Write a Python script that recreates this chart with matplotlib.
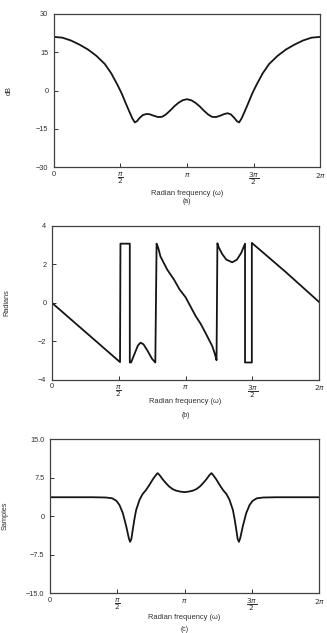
import numpy as np
import matplotlib
matplotlib.use("Agg")
import matplotlib.pyplot as plt

# (a) log magnitude, dB
w_mag = [0.00, 0.20, 0.40, 0.60, 0.80, 1.00, 1.20, 1.35, 1.50, 1.60, 1.70, 1.78, 1.85, 1.91,
         1.96, 2.03, 2.10, 2.18, 2.26, 2.36, 2.46, 2.55, 2.64, 2.74, 2.84, 2.94, 3.04, 3.14,
         3.24, 3.34, 3.44, 3.54, 3.64, 3.73, 3.82, 3.92, 4.02, 4.10, 4.18, 4.25, 4.32, 4.37,
         4.43, 4.50, 4.58, 4.68, 4.78, 4.93, 5.08, 5.28, 5.48, 5.68, 5.88, 6.08, 6.28]
mag_db = [21.0, 20.7, 19.6, 18.0, 16.1, 13.6, 10.4, 6.8, 2.2, -1.2, -5.2, -8.3, -10.9, -12.5,
          -12.0, -10.6, -9.6, -9.2, -9.3, -9.9, -10.4, -10.3, -9.4, -7.9, -6.2, -4.8, -3.8, -3.4,
          -3.8, -4.8, -6.2, -7.9, -9.4, -10.3, -10.4, -9.9, -9.2, -8.9, -9.4, -10.6, -12.0, -12.5,
          -10.9, -8.3, -5.2, -1.2, 2.2, 6.8, 10.4, 13.6, 16.1, 18.0, 19.6, 20.7, 21.0]

# (b) principal value of the phase, radians
w_ph = [0.00, 0.40, 0.80, 1.20, 1.60, 1.61, 1.83, 1.83, 1.86, 1.95, 2.02, 2.08, 2.15, 2.25,
        2.35, 2.43, 2.46, 2.50, 2.55, 2.71, 2.87, 3.00, 3.14, 3.38, 3.50, 3.61, 3.70, 3.77,
        3.83, 3.87, 3.89, 3.92, 4.00, 4.10, 4.24, 4.35, 4.45, 4.54, 4.54, 4.70, 4.70, 5.50, 6.28]
phase = [0.00, -0.77, -1.54, -2.31, -3.08, 3.08, 3.08, -3.10, -3.10, -2.60, -2.22, -2.07, -2.15, -2.50,
         -2.90, -3.10, 3.08, 2.85, 2.42, 1.73, 1.21, 0.70, 0.30, -0.69, -1.10, -1.56, -1.95, -2.25,
         -2.65, -2.98, 3.10, 2.90, 2.55, 2.25, 2.11, 2.25, 2.60, 3.08, -3.10, -3.10, 3.12, 1.60, 0.05]

# (c) group delay, samples
w_gd = [0.00, 0.50, 1.00, 1.30, 1.45, 1.55, 1.62, 1.70, 1.78, 1.84, 1.87, 1.90, 1.93, 1.97,
        2.01, 2.09, 2.16, 2.24, 2.32, 2.40, 2.47, 2.51, 2.56, 2.63, 2.70, 2.78, 2.86, 2.94,
        3.04, 3.14, 3.24, 3.34, 3.42, 3.50, 3.58, 3.65, 3.72, 3.77, 3.81, 3.88, 3.96, 4.04,
        4.12, 4.19, 4.27, 4.31, 4.35, 4.38, 4.41, 4.44, 4.50, 4.58, 4.66, 4.73, 4.83, 4.98,
        5.28, 5.78, 6.28]
grd = [3.7, 3.7, 3.7, 3.65, 3.5, 3.0, 2.2, 0.6, -2.0, -4.3, -5.0, -4.4, -2.7, -0.6,
       1.2, 3.2, 4.3, 5.1, 6.1, 7.2, 8.0, 8.4, 8.0, 7.2, 6.5, 5.8, 5.3, 5.0,
       4.8, 4.7, 4.8, 5.0, 5.3, 5.8, 6.5, 7.2, 8.0, 8.4, 8.0, 7.2, 6.1, 5.1,
       4.3, 3.2, 1.2, -0.6, -2.7, -4.4, -5.0, -4.3, -2.0, 0.6, 2.2, 3.0, 3.5, 3.65,
       3.7, 3.7, 3.7]

x_ticks = [0, np.pi / 2, np.pi, 3 * np.pi / 2, 2 * np.pi]
x_labels = ["0", r"$\dfrac{\pi}{2}$", r"$\pi$", r"$\dfrac{3\pi}{2}$", r"$2\pi$"]

plt.rcParams["font.family"] = ["Liberation Sans", "DejaVu Sans"]
plt.rcParams["mathtext.fontset"] = "dejavusans"

fig = plt.figure(figsize=(3.27, 6.33), dpi=100)

panels = [
    # rect, x, y, ylim, yticks, yticklabels, ylabel, caption, label y, caption y
    ([0.165, 0.736, 0.814, 0.242], w_mag, mag_db, (-30, 30), [30, 15, 0, -15, -30],
     ["30", "15", "0", "\u221215", "\u221230"], "dB", "(a)", -0.17, -0.222),
    ([0.159, 0.400, 0.817, 0.243], w_ph, phase, (-4, 4), [4, 2, 0, -2, -4],
     ["4", "2", "0", "\u22122", "\u22124"], "Radians", "(b)", -0.143, -0.234),
    ([0.153, 0.063, 0.823, 0.243], w_gd, grd, (-15, 15), [15, 7.5, 0, -7.5, -15],
     ["15.0", "7.5", "0", "\u22127.5", "\u221215.0"], "Samples", "(c)", -0.156, -0.234),
]

for rect, x, y, ylim, yt, ytl, ylab, cap, xl_y, cap_y in panels:
    ax = fig.add_axes(rect)
    ax.plot(x, y, color="#151515", lw=1.3)
    ax.set_xlim(0, 2 * np.pi)
    ax.set_ylim(*ylim)
    ax.set_xticks(x_ticks)
    ax.set_xticklabels(x_labels)
    ax.set_yticks(yt)
    ax.set_yticklabels(ytl)
    ax.tick_params(direction="in", length=3, width=0.7, labelsize=5.3, colors="#303030")
    ax.tick_params(axis="x", pad=2.5)
    ax.tick_params(axis="y", pad=4)
    for s in ax.spines.values():
        s.set_color("#404040")
        s.set_linewidth(0.9)
    ax.set_ylabel(ylab, fontsize=5.3, color="#303030")
    ax.yaxis.set_label_coords(-0.155, 0.5)
    ax.text(0.5, xl_y, "Radian frequency (\u03c9)", transform=ax.transAxes,
            ha="center", va="center", fontsize=5.4, color="#303030")
    ax.text(0.5, cap_y, cap, transform=ax.transAxes,
            ha="center", va="center", fontsize=5, color="#303030")

fig.savefig("out.png", dpi=100)
